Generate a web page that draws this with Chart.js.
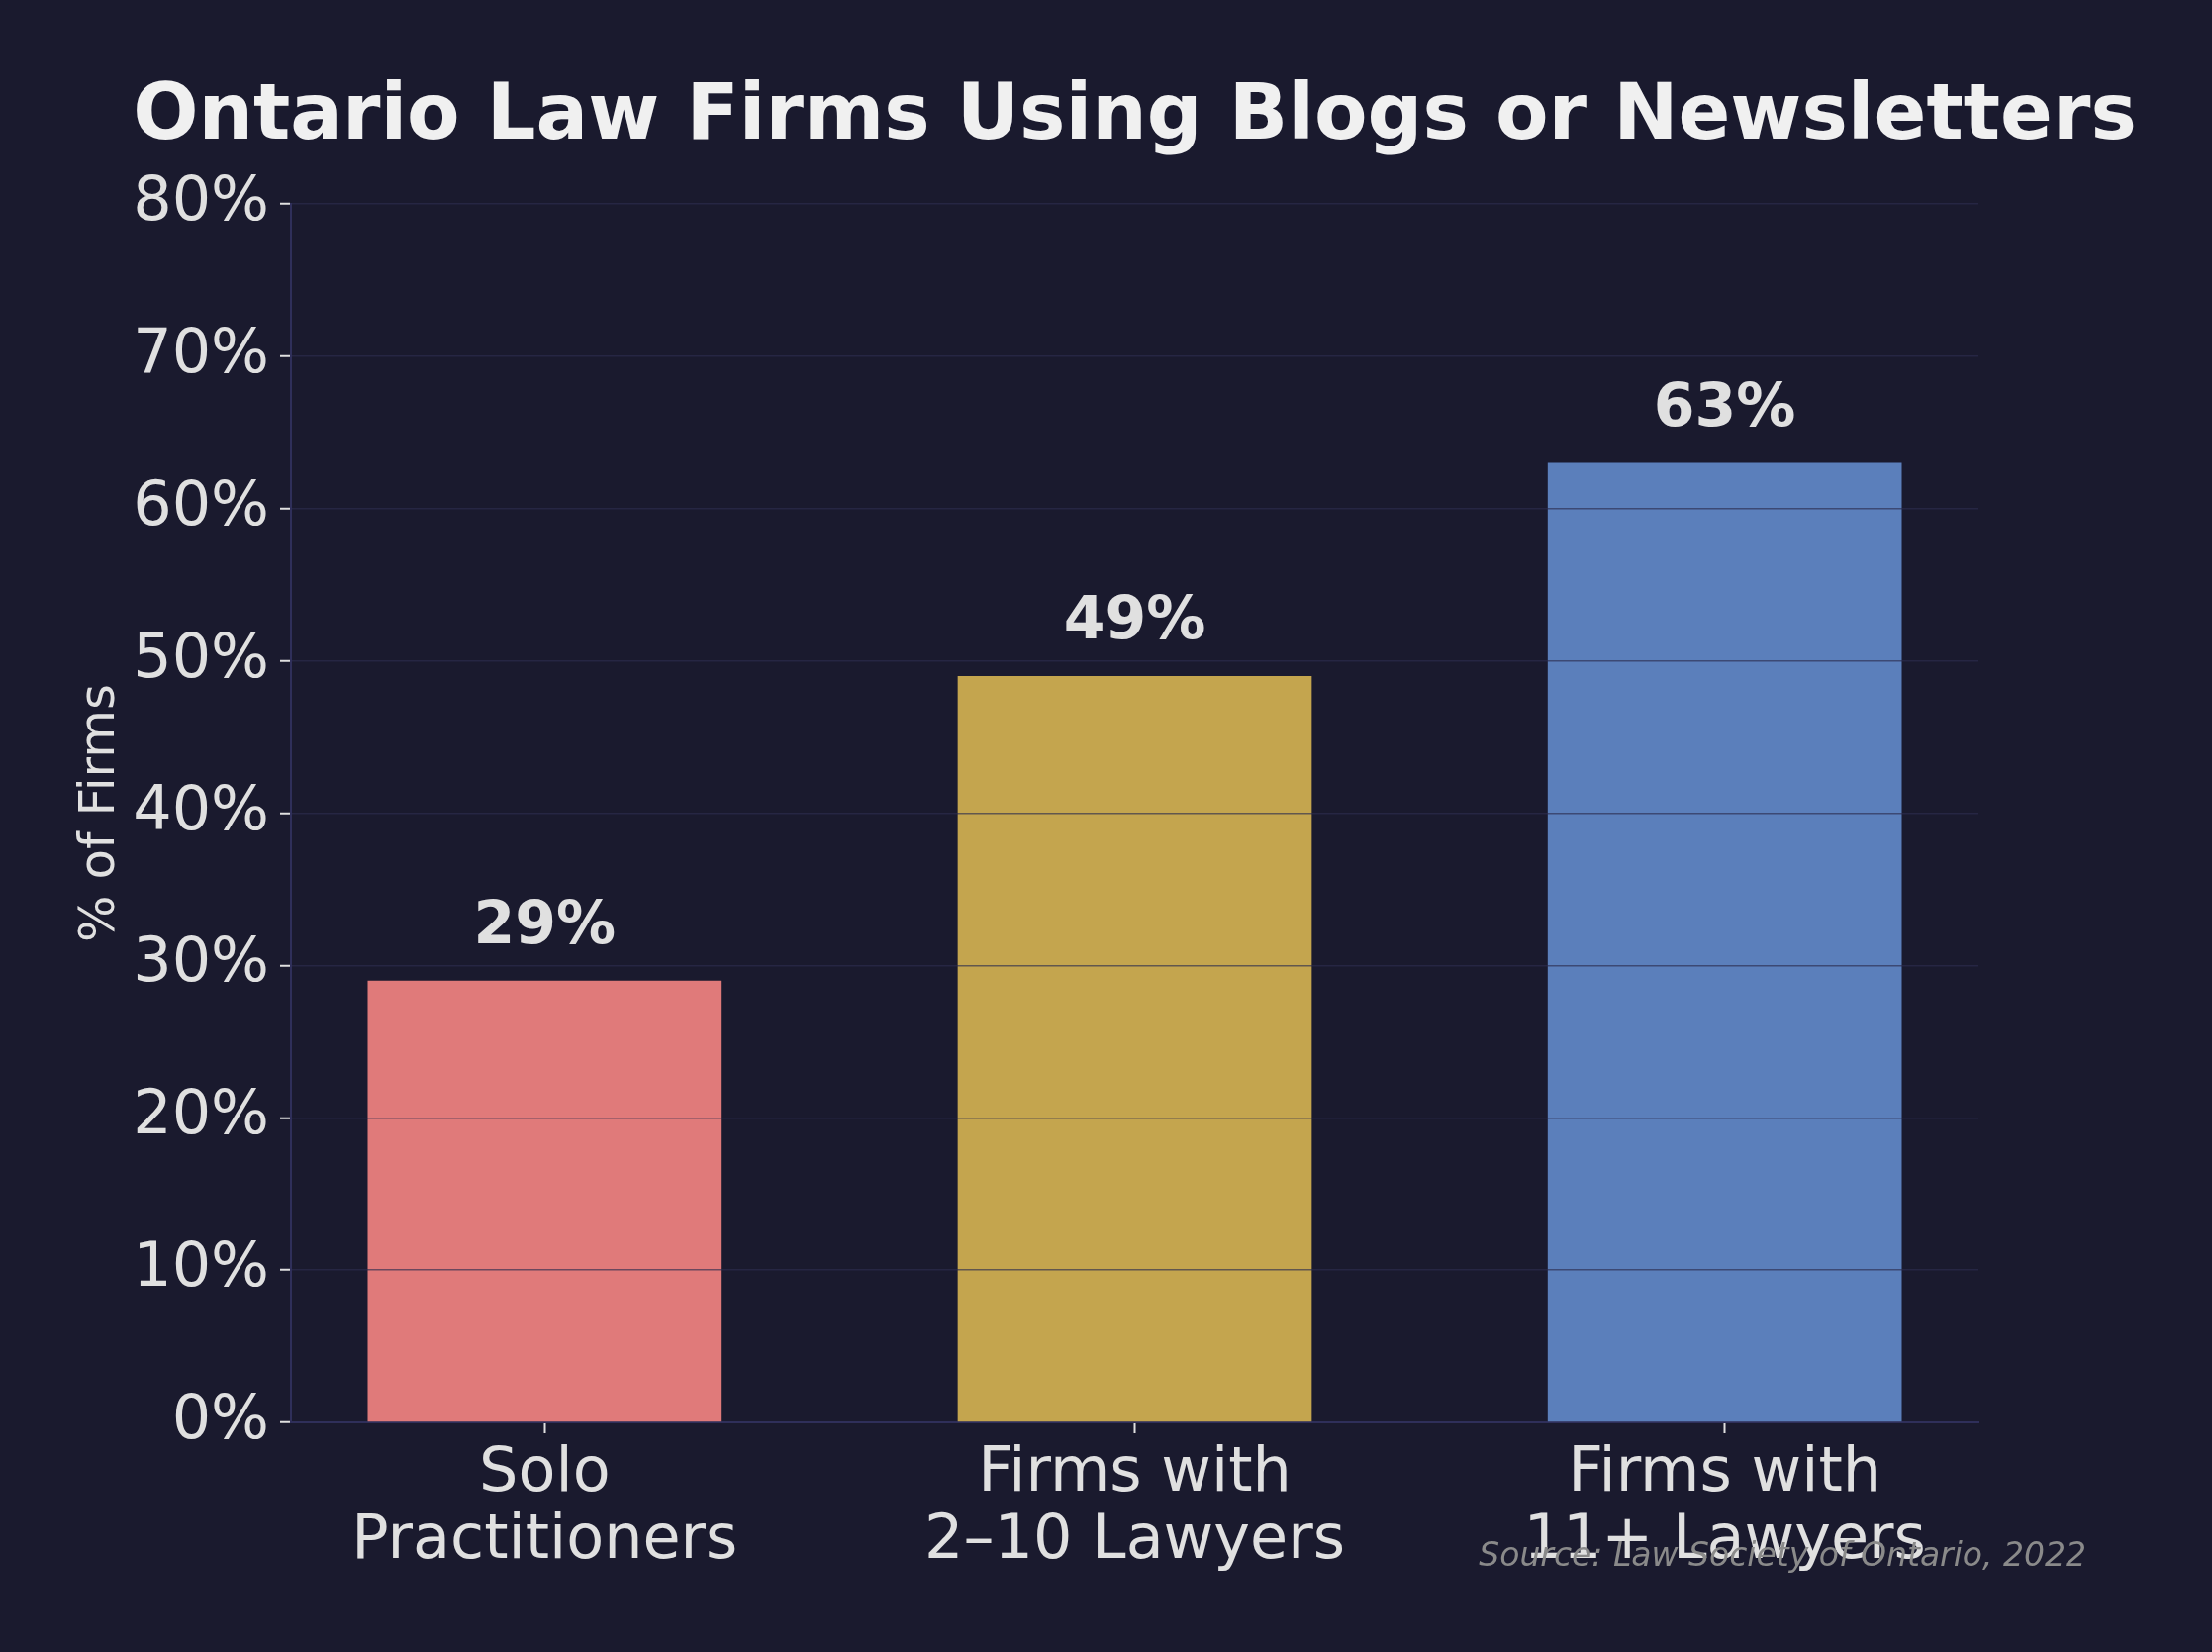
<!DOCTYPE html>
<html>
<head>
<meta charset="utf-8">
<script src="https://cdn.jsdelivr.net/npm/chart.js@4.4.1/dist/chart.umd.min.js"></script>
<style>
  html, body { margin: 0; padding: 0; background: #1a1a2e; }
  canvas { display: block; }
</style>
</head>
<body>
<canvas id="myChart" width="2235" height="1669"></canvas>
<script>
// 데이터
const categories = [['Solo', 'Practitioners'], ['Firms with', '2–10 Lawyers'], ['Firms with', '11+ Lawyers']];
const values = [29, 49, 63];
const barColors = ['#e07a7a', '#c4a54e', '#5b7fbb'];
const yTicks = [0, 10, 20, 30, 40, 50, 60, 70, 80];

const titleText = 'Ontario Law Firms Using Blogs or Newsletters';
const sourceText = 'Source: Law Society of Ontario, 2022';

const FONT = "'DejaVu Sans', 'Noto Sans', sans-serif";

// 제목, 막대 값, 출처 그리기
const extraText = {
    id: 'extraText',
    afterDatasetsDraw(chart) {
        const { ctx } = chart;
        const meta = chart.getDatasetMeta(0);
        ctx.save();
        ctx.font = 'bold 60px ' + FONT;
        ctx.fillStyle = '#e0e0e0';
        ctx.textAlign = 'center';
        ctx.textBaseline = 'alphabetic';
        meta.data.forEach((bar, i) => {
            ctx.fillText(values[i] + '%', bar.x, bar.y - 38);
        });
        ctx.restore();
    },
    afterDraw(chart) {
        const { ctx, chartArea } = chart;
        ctx.save();
        ctx.font = 'bold 78px ' + FONT;
        ctx.fillStyle = '#f0f0f0';
        ctx.textAlign = 'center';
        ctx.textBaseline = 'alphabetic';
        ctx.fillText(titleText, (chartArea.left + chartArea.right) / 2, 140);

        ctx.font = 'italic 33px ' + FONT;
        ctx.fillStyle = '#8a8a8a';
        ctx.textAlign = 'right';
        ctx.fillText(sourceText, 2108, 1582);
        ctx.restore();
    }
};

const ctx = document.getElementById('myChart').getContext('2d');
const myChart = new Chart(ctx, {
    type: 'bar',
    data: {
        datasets: [{
            data: values.map((v, i) => ({ x: i, y: v })),
            backgroundColor: barColors,
            borderWidth: 0,
            categoryPercentage: 1.0,
            barPercentage: 0.6
        }]
    },
    options: {
        responsive: false,
        animation: false,
        devicePixelRatio: 1,
        layout: {
            padding: { top: 206, right: 236, bottom: 0, left: 0 }
        },
        plugins: {
            legend: { display: false },
            tooltip: { enabled: false },
            title: { display: false }
        },
        scales: {
            x: {
                type: 'linear',
                min: -0.43,
                max: 2.43,
                offset: false,
                afterBuildTicks(scale) {
                    scale.ticks = categories.map((c, i) => ({ value: i }));
                },
                afterFit(scale) {
                    scale.height = 232;
                },
                grid: {
                    offset: false,
                    drawOnChartArea: false,
                    drawTicks: true,
                    tickLength: 11,
                    tickColor: '#e0e0e0',
                    tickWidth: 2
                },
                border: { color: '#2f2f5a', width: 2 },
                ticks: {
                    color: '#e0e0e0',
                    font: { family: FONT, size: 62, lineHeight: 1.1 },
                    padding: 8,
                    maxRotation: 0,
                    autoSkip: false,
                    callback: (value) => categories[value]
                }
            },
            y: {
                min: 0,
                max: 80,
                afterBuildTicks(scale) {
                    scale.ticks = yTicks.map(v => ({ value: v }));
                },
                afterFit(scale) {
                    scale.width = 294;
                },
                // 격자선은 막대 위에 그림
                grid: {
                    z: 1,
                    color: (c) => c.tick && c.tick.value === 0 ? 'rgba(0,0,0,0)' : 'rgba(44, 44, 78, 0.65)',
                    lineWidth: 1.5,
                    drawTicks: true,
                    tickLength: 11,
                    tickColor: '#e0e0e0',
                    tickWidth: 2
                },
                border: { color: '#2f2f5a', width: 2, z: 2 },
                ticks: {
                    color: '#e0e0e0',
                    font: { family: FONT, size: 62 },
                    padding: 11,
                    callback: (value) => value + '%'
                },
                title: {
                    display: true,
                    text: '% of Firms',
                    color: '#e0e0e0',
                    font: { family: FONT, size: 50 },
                    padding: { top: 72, bottom: 0 }
                }
            }
        }
    },
    plugins: [extraText]
});
</script>
</body>
</html>
